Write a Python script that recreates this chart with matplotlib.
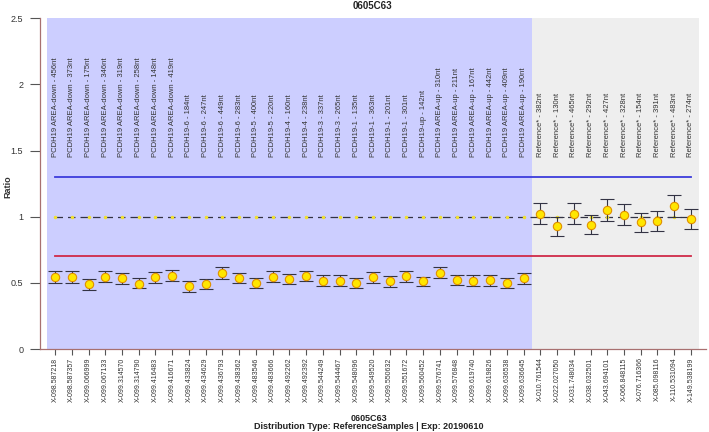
import numpy as np
import matplotlib.pyplot as plt

plt.rcParams['font.family'] = ['Liberation Sans', 'DejaVu Sans']

probe_names = ["PCDH19 AREA-down - 456nt", "PCDH19 AREA-down - 373nt", "PCDH19 AREA-down - 175nt",
               "PCDH19 AREA-down - 346nt", "PCDH19 AREA-down - 319nt", "PCDH19 AREA-down - 258nt",
               "PCDH19 AREA-down - 148nt", "PCDH19 AREA-down - 419nt",
               "PCDH19-6 - 184nt", "PCDH19-6 - 247nt", "PCDH19-6 - 449nt", "PCDH19-6 - 283nt",
               "PCDH19-5 - 400nt", "PCDH19-5 - 220nt", "PCDH19-4 - 160nt", "PCDH19-4 - 238nt",
               "PCDH19-3 - 337nt", "PCDH19-3 - 265nt",
               "PCDH19-1 - 135nt", "PCDH19-1 - 363nt", "PCDH19-1 - 201nt", "PCDH19-1 - 301nt",
               "PCDH19-up - 142nt",
               "PCDH19 AREA-up - 310nt", "PCDH19 AREA-up - 211nt", "PCDH19 AREA-up - 167nt",
               "PCDH19 AREA-up - 442nt", "PCDH19 AREA-up - 409nt", "PCDH19 AREA-up - 190nt",
               "Reference* - 382nt", "Reference* - 130nt", "Reference* - 465nt", "Reference* - 292nt",
               "Reference* - 427nt", "Reference* - 328nt", "Reference* - 154nt", "Reference* - 391nt",
               "Reference* - 483nt", "Reference* - 274nt"]

positions = ["X-098.587218", "X-098.587357", "X-099.066999", "X-099.067133", "X-099.314570",
             "X-099.314790", "X-099.416483", "X-099.416671", "X-099.433824", "X-099.434629",
             "X-099.436793", "X-099.438362", "X-099.483546", "X-099.483666", "X-099.492262",
             "X-099.492392", "X-099.544249", "X-099.544467", "X-099.548096", "X-099.549520",
             "X-099.550632", "X-099.551672", "X-099.560452", "X-099.576741", "X-099.576848",
             "X-099.619740", "X-099.619826", "X-099.636538", "X-099.636645",
             "X-010.761544", "X-022.027050", "X-031.748034", "X-038.032501", "X-043.694101",
             "X-066.848115", "X-076.716366", "X-085.098116", "X-110.531094", "X-149.538199"]

ratio = [0.548, 0.548, 0.490, 0.548, 0.535, 0.495, 0.548, 0.555, 0.475, 0.490,
         0.578, 0.540, 0.500, 0.548, 0.528, 0.553, 0.517, 0.517, 0.502, 0.545,
         0.515, 0.553, 0.515, 0.578, 0.525, 0.517, 0.525, 0.502, 0.540,
         1.020, 0.930, 1.023, 0.940, 1.050, 1.015, 0.957, 0.970, 1.081, 0.980]
upper = [0.591, 0.591, 0.528, 0.586, 0.578, 0.535, 0.583, 0.596, 0.515, 0.533,
         0.621, 0.578, 0.540, 0.591, 0.570, 0.591, 0.560, 0.558, 0.540, 0.583,
         0.550, 0.591, 0.548, 0.621, 0.560, 0.558, 0.560, 0.540, 0.578,
         1.100, 1.000, 1.104, 1.013, 1.131, 1.096, 1.028, 1.045, 1.164, 1.058]
lower = [0.502, 0.502, 0.447, 0.507, 0.495, 0.460, 0.502, 0.515, 0.434, 0.452,
         0.533, 0.498, 0.460, 0.510, 0.490, 0.515, 0.480, 0.477, 0.464, 0.502,
         0.472, 0.510, 0.477, 0.535, 0.485, 0.477, 0.480, 0.464, 0.490,
         0.942, 0.856, 0.945, 0.869, 0.967, 0.937, 0.881, 0.894, 0.998, 0.904]

n_test = 29
upper_limit = 1.3
lower_limit = 0.7

ratio = np.asarray(ratio)
x = np.arange(len(ratio))
yerr = [ratio - np.asarray(lower), np.asarray(upper) - ratio]

fig = plt.figure(figsize=(7.09, 4.32), dpi=100)
ax = fig.add_axes([0.0564, 0.192, 0.9394, 0.766])

# background areas: test probes and reference probes
ax.axvspan(-0.5, n_test - 0.5, ymin=0, ymax=1, color='#ccceff', lw=0, zorder=0)
ax.axvspan(n_test - 0.5, len(x) - 0.5, ymin=0, ymax=1, color='#eeeeee', lw=0, zorder=0)

ax.plot([0, len(x) - 1], [upper_limit, upper_limit], color='#3c3cdc', lw=1.3, zorder=2)
ax.plot([0, len(x) - 1], [lower_limit, lower_limit], color='#d02a48', lw=1.3, zorder=2)
ax.plot([0, len(x) - 1], [1, 1], color='#333344', lw=0.9, dashes=(6, 4), zorder=2)
ax.plot(x, np.ones(len(x)), ls='none', marker='.', ms=3, color='#f0e030', zorder=2)

ax.errorbar(x, ratio, yerr=yerr, fmt='o', ms=6, mfc='#ffe600', mec='#e09000', mew=0.8,
            ecolor='#333344', elinewidth=0.8, capsize=5, capthick=1.0, zorder=3)

for i, name in enumerate(probe_names):
    ax.text(i, 1.45, name, rotation=90, ha='center', va='bottom', fontsize=5.5, color='#333333')

ax.set_xlim(-0.9, 38.9)
ax.set_ylim(0, 2.5)
ax.set_yticks([0, 0.5, 1, 1.5, 2, 2.5])
ax.set_yticklabels(['0', '0.5', '1', '1.5', '2', '2.5'])
ax.set_xticks(x)
ax.set_xticklabels(positions, rotation=90, fontsize=5, color='#333333')

spine_col = '#a87070'
for side in ['top', 'right']:
    ax.spines[side].set_visible(False)
for side in ['left', 'bottom']:
    ax.spines[side].set_color(spine_col)
    ax.spines[side].set_linewidth(0.9)
ax.tick_params(axis='y', length=7, color='#555555', labelsize=6.5, labelcolor='#333333', pad=5)
ax.tick_params(axis='x', length=4, color='#555555', pad=2)
ax.set_ylabel('Ratio', fontsize=6.5, fontweight='bold', color='#333333')
ax.yaxis.set_label_coords(-0.042, 0.49)

fig.text(0.525, 0.985, '0605C63', ha='center', va='center', fontsize=7, fontweight='bold', color='#222222')
fig.text(0.52, 0.032, '0605C63', ha='center', va='center', fontsize=6.5, fontweight='bold', color='#222222')
fig.text(0.52, 0.012, 'Distribution Type: ReferenceSamples | Exp: 20190610', ha='center', va='center',
         fontsize=6.5, fontweight='bold', color='#222222')

fig.savefig('out.png', dpi=100)
